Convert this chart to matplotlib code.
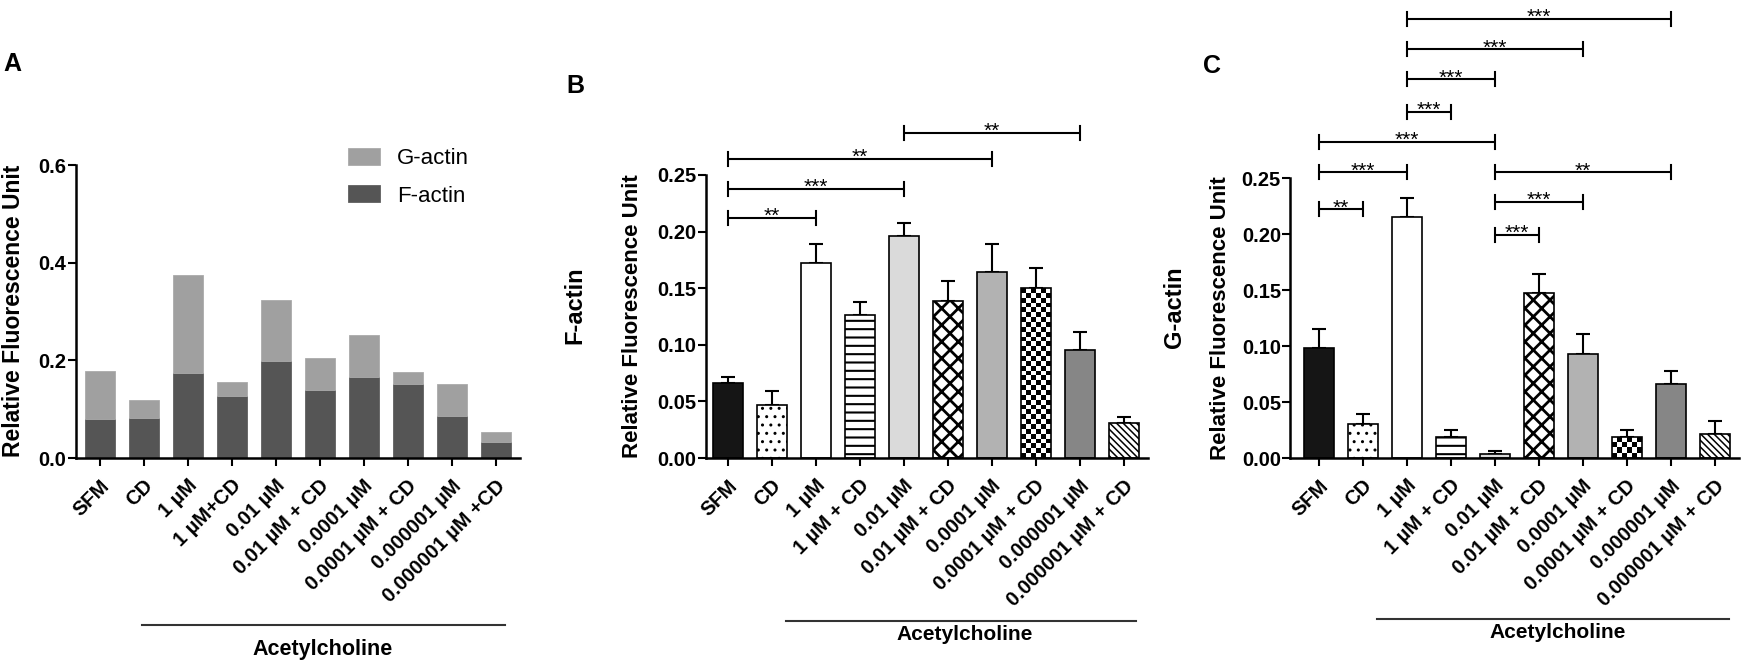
import numpy as np
import matplotlib.pyplot as plt
from matplotlib.lines import Line2D
from matplotlib.transforms import ScaledTranslation

# ---- data ----
labels_a = ['SFM', 'CD', '1 µM', '1 µM+CD', '0.01 µM', '0.01 µM + CD',
            '0.0001 µM', '0.0001 µM + CD', '0.000001 µM', '0.000001 µM +CD']
labels_bc = ['SFM', 'CD', '1 µM', '1 µM + CD', '0.01 µM', '0.01 µM + CD',
             '0.0001 µM', '0.0001 µM + CD', '0.000001 µM', '0.000001 µM + CD']

# panel A (stacked)
f_actin_a = [0.080, 0.082, 0.174, 0.127, 0.199, 0.140, 0.166, 0.152, 0.085, 0.032]
g_actin_a = [0.099, 0.037, 0.201, 0.028, 0.124, 0.065, 0.085, 0.025, 0.067, 0.021]

# panel B: F-actin mean / SEM
f_mean = [0.066, 0.047, 0.172, 0.126, 0.196, 0.139, 0.164, 0.150, 0.095, 0.031]
f_sem = [0.0055, 0.012, 0.017, 0.012, 0.012, 0.017, 0.025, 0.018, 0.016, 0.005]

# panel C: G-actin mean / SEM
g_mean = [0.098, 0.030, 0.215, 0.019, 0.004, 0.147, 0.093, 0.019, 0.066, 0.021]
g_sem = [0.017, 0.009, 0.017, 0.006, 0.002, 0.017, 0.018, 0.006, 0.012, 0.012]

# significance brackets (group pairs, stars)
sig_pairs_b = [(0, 2), (0, 4), (0, 6), (4, 8)]
sig_stars_b = ['**', '***', '**', '**']
sig_pairs_c = [(0, 1), (0, 2), (0, 4), (2, 3), (2, 4), (2, 6), (2, 8),
               (4, 5), (4, 6), (4, 8)]
sig_stars_c = ['**', '***', '***', '***', '***', '***', '***', '***', '***', '**']

# bracket heights (layout)
sig_level_b = [0.212, 0.238, 0.264, 0.287]
sig_level_c = [0.222, 0.255, 0.282, 0.309, 0.338, 0.365, 0.392, 0.199, 0.229, 0.255]

# fill styles of the 10 groups in B and C
bar_styles = [
    dict(fc='#151515', hatch=None, hlw=1.4),
    dict(fc='white', hatch='..', hlw=1.0),
    dict(fc='white', hatch=None, hlw=1.4),
    dict(fc='white', hatch='--', hlw=1.5),
    dict(fc='#dadada', hatch=None, hlw=1.4),
    dict(fc='white', hatch='xx', hlw=2.0),
    dict(fc='#b2b2b2', hatch=None, hlw=1.4),
    dict(fc='checker', hatch=None, hlw=1.4),
    dict(fc='#868686', hatch=None, hlw=1.4),
    dict(fc='white', hatch='\\' * 5, hlw=1.1),
]

W, H = 1749, 671
STEP = 44.0  # pixels between bars

plt.rcParams['font.family'] = ['Liberation Sans', 'DejaVu Sans']
plt.rcParams['font.weight'] = 'bold'
plt.rcParams['hatch.linewidth'] = 1.4
plt.rcParams['hatch.color'] = 'black'

fig = plt.figure(figsize=(W / 100, H / 100), dpi=100)
fig.patch.set_facecolor('white')


def make_axes(c0, xlo, xhi, top, bottom):
    left = c0 + xlo * STEP
    right = c0 + xhi * STEP
    ax = fig.add_axes([left / W, 1 - bottom / H, (right - left) / W, (bottom - top) / H])
    ax.set_xlim(xlo, xhi)
    for s in ['top', 'right']:
        ax.spines[s].set_visible(False)
    for s in ['left', 'bottom']:
        ax.spines[s].set_linewidth(1.8)
    ax.tick_params(axis='both', direction='out', length=5.8, width=1.5)
    ax.tick_params(axis='y', labelsize=14.5, pad=1)
    ax.tick_params(axis='x', labelsize=14.5, pad=2)
    return ax


def set_xlabels(ax, labels):
    x = np.arange(len(labels))
    ax.set_xticks(x)
    ax.set_xticklabels(labels, rotation=45, ha='right', va='center',
                       rotation_mode='anchor', fontweight='bold')
    off = ScaledTranslation(6 / 100, -14 / 100, fig.dpi_scale_trans)
    for t in ax.get_xticklabels():
        t.set_transform(t.get_transform() + off)


def px_per_unit(ax):
    return ax.transData.transform((0, 1))[1] - ax.transData.transform((0, 0))[1]


def draw_bars(ax, means, sems):
    x = np.arange(len(means))
    width = 0.66
    ax.errorbar(x, means, yerr=[np.zeros(len(sems)), sems], fmt='none',
                ecolor='black', elinewidth=1.5, capsize=4.7, capthick=1.5, zorder=1)
    ppu = px_per_unit(ax)
    for xi, m, st in zip(x, means, bar_styles):
        if st['fc'] == 'checker':
            b = ax.bar(xi, m, width, facecolor='none', edgecolor='black',
                       linewidth=1.2, zorder=3)[0]
            ncols = 6
            cell = width * STEP / ncols
            nrows = max(1, int(round(m * ppu / cell)))
            board = np.indices((nrows, ncols)).sum(axis=0) % 2
            im = ax.imshow(board, cmap='gray', vmin=0, vmax=1, origin='lower',
                           extent=(xi - width / 2, xi + width / 2, 0, m),
                           interpolation='nearest', aspect='auto', zorder=2)
            im.set_clip_path(b)
        else:
            b = ax.bar(xi, m, width, facecolor=st['fc'], edgecolor='black',
                       linewidth=1.2, hatch=st['hatch'], zorder=2)[0]
            if st['hatch'] and hasattr(b, 'set_hatch_linewidth'):
                b.set_hatch_linewidth(st['hlw'])


def draw_sig(ax, pairs, stars, levels):
    cap = 7 / px_per_unit(ax)
    for (i, j), s, y in zip(pairs, stars, levels):
        ax.plot([i, j], [y, y], color='black', lw=1.5, clip_on=False, solid_capstyle='butt')
        for xx in (i, j):
            ax.plot([xx, xx], [y - cap, y + cap], color='black', lw=1.5, clip_on=False)
        ax.annotate(s, ((i + j) / 2, y), xytext=(0, -3), textcoords='offset points',
                    ha='center', va='baseline', fontsize=15, fontweight='normal',
                    annotation_clip=False)


def fig_text(x, y, s, **kw):
    fig.text(x / W, 1 - y / H, s, **kw)


def group_line(x0, x1, y):
    fig.add_artist(Line2D([x0 / W, x1 / W], [1 - y / H, 1 - y / H],
                          transform=fig.transFigure, color='#333333', lw=1.5))


# ---- panel A ----
axA = make_axes(100, -0.55, 9.55, 165, 458)
axA.set_ylim(0, 0.6)
axA.set_yticks([0.0, 0.2, 0.4, 0.6])
axA.set_yticklabels(['0.0', '0.2', '0.4', '0.6'])
xa = np.arange(len(labels_a))
f_bars = axA.bar(xa, f_actin_a, 0.66, color='#555555', edgecolor='#606060', linewidth=0.6)
g_bars = axA.bar(xa, g_actin_a, 0.66, bottom=f_actin_a, color='#a0a0a0',
                 edgecolor='#aaaaaa', linewidth=0.6)
set_xlabels(axA, labels_a)
fig.legend([g_bars, f_bars], ['G-actin', 'F-actin'], loc='upper left',
           bbox_to_anchor=(348 / W, 1 - 148 / H), frameon=False,
           prop=dict(size=16, weight='normal'), handlelength=1.44, handleheight=0.81,
           labelspacing=0.72, handletextpad=0.77, borderpad=0, borderaxespad=0)
fig_text(14, 311, 'Relative Fluorescence Unit', rotation=90, ha='center', va='center',
         fontsize=16.5, fontweight='bold')
fig_text(12, 64, 'A', fontsize=18, fontweight='bold', ha='center', va='center')
group_line(142, 505, 625)
fig_text(323, 650, 'Acetylcholine', fontsize=15.5, fontweight='bold', ha='center', va='center')

# ---- panel B ----
axB = make_axes(728, -0.5, 9.55, 175, 458)
axB.set_ylim(0, 0.25)
axB.set_yticks(np.arange(0, 0.26, 0.05))
axB.set_yticklabels(['%.2f' % v for v in np.arange(0, 0.26, 0.05)])
draw_bars(axB, f_mean, f_sem)
axB.set_xlim(-0.5, 9.55)
axB.set_ylim(0, 0.25)
set_xlabels(axB, labels_bc)
draw_sig(axB, sig_pairs_b, sig_stars_b, sig_level_b)
fig_text(633, 316, 'Relative Fluorescence Unit', rotation=90, ha='center', va='center',
         fontsize=16, fontweight='bold')
fig_text(575, 305, 'F-actin', rotation=90, ha='center', va='center',
         fontsize=17, fontweight='bold')
fig_text(575, 86, 'B', fontsize=18, fontweight='bold', ha='center', va='center')
group_line(786, 1136, 621)
fig_text(965, 634, 'Acetylcholine', fontsize=15, fontweight='bold', ha='center', va='center')

# ---- panel C ----
axC = make_axes(1319, -0.65, 9.55, 178, 458)
axC.set_ylim(0, 0.25)
axC.set_yticks(np.arange(0, 0.26, 0.05))
axC.set_yticklabels(['%.2f' % v for v in np.arange(0, 0.26, 0.05)])
draw_bars(axC, g_mean, g_sem)
axC.set_xlim(-0.65, 9.55)
axC.set_ylim(0, 0.25)
set_xlabels(axC, labels_bc)
draw_sig(axC, sig_pairs_c, sig_stars_c, sig_level_c)
fig_text(1221, 318, 'Relative Fluorescence Unit', rotation=90, ha='center', va='center',
         fontsize=16, fontweight='bold')
fig_text(1175, 307, 'G-actin', rotation=90, ha='center', va='center',
         fontsize=17, fontweight='bold')
fig_text(1212, 66, 'C', fontsize=18, fontweight='bold', ha='center', va='center')
group_line(1377, 1729, 619)
fig_text(1558, 633, 'Acetylcholine', fontsize=15, fontweight='bold', ha='center', va='center')

fig.savefig('out.png', dpi=100, facecolor='white')
